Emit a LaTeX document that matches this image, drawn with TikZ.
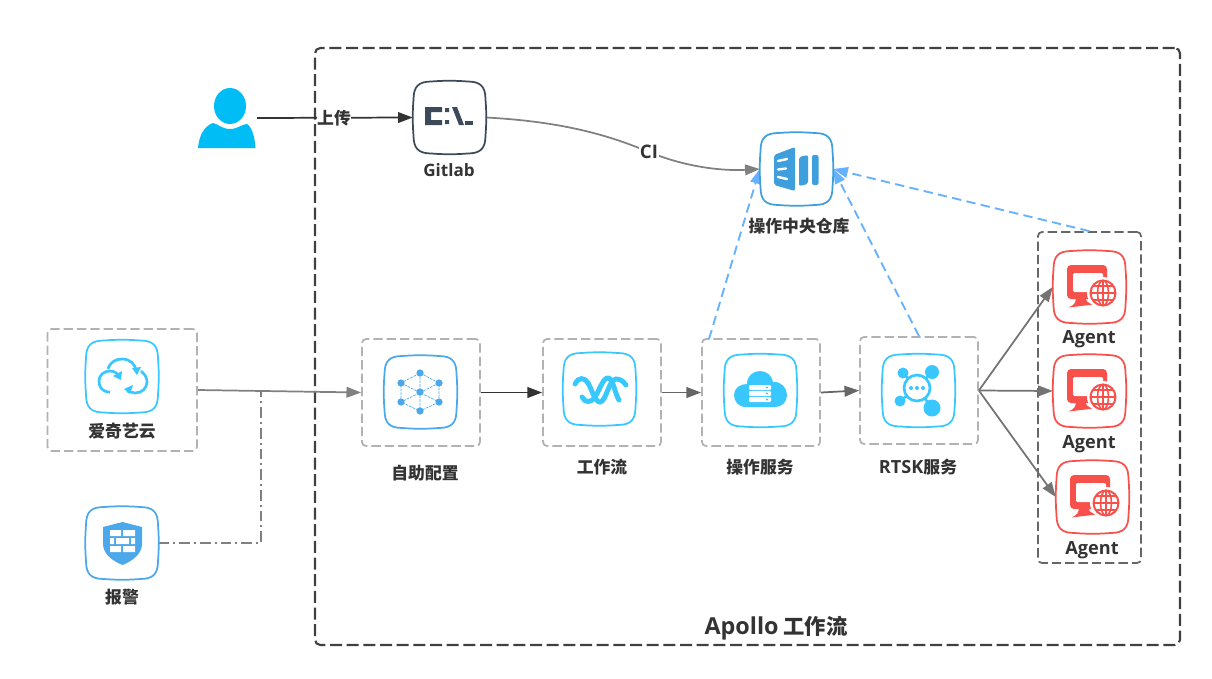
\documentclass[tikz,border=0pt]{standalone}
\usepackage{fontspec}
\setmainfont{Noto Sans CJK SC}[BoldFont={Noto Sans CJK SC Black}]
\newfontfamily\latn{Open Sans}[BoldFont={Open Sans Bold}]
\usetikzlibrary{arrows.meta,calc}
\definecolor{txt}{HTML}{333333}
\definecolor{cyanic}{HTML}{38C8FF}
\definecolor{blueic}{HTML}{4BA8EA}
\definecolor{repoic}{HTML}{3E9FDC}
\definecolor{redic}{HTML}{F8504B}
\definecolor{dashblue}{HTML}{66B2FF}
\definecolor{gitic}{HTML}{3D4A5A}
\definecolor{person}{HTML}{00BDF6}
\newcommand{\squircle}[3]{%
 \begin{scope}[shift={(#1,#2)}]
 \draw[#3,line width=1.3pt,fill=white]
  (-36,-18) .. controls (-36,-31) and (-31,-36) .. (-18,-36)
  .. controls (-6,-37) and (6,-37) .. (18,-36)
  .. controls (31,-36) and (36,-31) .. (36,-18)
  .. controls (37,-6) and (37,6) .. (36,18)
  .. controls (36,31) and (31,36) .. (18,36)
  .. controls (6,37) and (-6,37) .. (-18,36)
  .. controls (-31,36) and (-36,31) .. (-36,18)
  .. controls (-37,6) and (-37,-6) .. (-36,-18) -- cycle;
 \end{scope}}
\newcommand{\agenticon}[2]{%
 \squircle{#1}{#2}{redic}
 \begin{scope}[shift={(#1,#2)}]
  \fill[redic,rounded corners=3pt] (-22.5,-22) rectangle (17.5,12);
  \fill[white,rounded corners=1pt] (-16.5,-14) rectangle (13.5,5);
  \fill[redic] (-14,10) -- (-4,10) .. controls (-4,14) and (-2,16) .. (4,17.5) -- (-21,20.5) .. controls (-15,18) and (-13,15) .. (-14,10) -- cycle;
  \fill[white] (13.5,6) circle (16);
  \draw[redic,line width=1.5pt] (13.5,6) circle (12.5);
  \draw[redic,line width=1.2pt] (13.5,6) ellipse (5.5 and 12.5) (13.5,-6.5) -- (13.5,18.5) (1,6) -- (26,6) (3.5,-1) -- (23.5,-1) (3.5,13) -- (23.5,13);
 \end{scope}}
\tikzset{
 x=0.75pt,y=-0.75pt,
 iconnode/.style={minimum size=54.75pt,inner sep=0pt,draw=none},
 framebox/.style={draw=#1,line width=1.3pt,rounded corners=3pt,dash pattern=on 7pt off 3pt,inner sep=0pt},
 stagebox/.style={framebox={black!30},minimum width=88.5pt,minimum height=80.25pt},
 lbl/.style={text=txt,font=\bfseries\fontsize{12.6pt}{14pt}\selectfont,inner sep=0pt},
 latlbl/.style={text=txt,font=\latn\bfseries\fontsize{13.6pt}{15pt}\selectfont,inner sep=0pt},
 conn/.style={line width=1.3pt,draw=#1,-{Triangle[length=11pt,width=8pt,fill=#1]}},
 blueconn/.style={line width=1.4pt,draw=dashblue,dash pattern=on 7pt off 4pt,-{Triangle[length=11pt,width=8pt,fill=dashblue]}},
 ww/.style={line width=3.7pt,draw=cyanic,line cap=round},
}
\begin{document}
\begin{tikzpicture}
\useasboundingbox (0,0) rectangle (1212,678);
\fill[white] (0,0) rectangle (1212,678);

% frames
\node[framebox={black!75},line width=1.6pt,rounded corners=4pt,dash pattern=on 9pt off 3.5pt,minimum width=648.75pt,minimum height=447.75pt] (outer) at (747.5,346.5) {};
\node[framebox={black!30},minimum width=112pt,minimum height=91.5pt] (cloudframe) at (122.25,390) {};
\node[stagebox] (selfframe) at (421,392.5) {};
\node[stagebox] (flowframe) at (602,392.5) {};
\node[stagebox] (opsframe) at (761,392.5) {};
\node[stagebox] (rtskframe) at (919,390.5) {};
\node[framebox={black!60},minimum width=77.25pt,minimum height=248.25pt] (agentframe) at (1089.5,397.5) {};

% named anchors of the icons
\node[iconnode] (person) at (226.5,118) {};
\node[iconnode] (gitlab) at (449.5,117.5) {};
\node[iconnode] (repo) at (796.5,169) {};
\node[iconnode] (alarm) at (122,543) {};
\node[iconnode] (agent1) at (1089.5,287) {};
\node[iconnode] (agent2) at (1089.5,391) {};
\node[iconnode] (agent3) at (1092.5,497) {};
\coordinate (personout) at (257,118);
\coordinate (junction) at (261,391.6);
\coordinate (opstop) at (709,339);

% connectors
\draw[conn=txt] (personout) -- (gitlab.west);
\draw[line width=1.3pt,draw=black!50,-{Triangle[length=11pt,width=8pt,fill=black!50]}] (gitlab.east) .. controls (570,122) and (615,138) .. (649,152) .. controls (688,168) and (725,171) .. (repo.west);
\draw[conn=black!50] (cloudframe.east) -- (selfframe.west);
\draw[line width=1.3pt,draw=black!50,dash pattern=on 8pt off 3pt on 1.5pt off 3pt] (alarm.east) -| (junction);
\draw[conn=txt] (selfframe.east) -- (flowframe.west);
\draw[conn=black!60] (flowframe.east) -- (opsframe.west);
\draw[conn=black!60] (opsframe.east) -- (rtskframe.west);
\draw[conn=black!55] (rtskframe.east) -- (agent1.west);
\draw[conn=black!55] (rtskframe.east) -- (agent2.west);
\draw[conn=black!55] (rtskframe.east) -- (agent3.west);
\draw[blueconn] (opstop) -- (repo.west);
\draw[blueconn] (rtskframe.north) -- (repo.east);
\draw[blueconn] (agentframe.north) -- (repo.east);

% person
\fill[person] (230,106) ellipse (16 and 18);
\fill[person] (198,148) .. controls (199,136) and (204,126) .. (213,123) .. controls (218,124) and (222,129) .. (230,129) .. controls (238,129) and (242,124) .. (247,124) .. controls (252,127) and (255,138) .. (255.5,148) -- cycle;

% gitlab icon
\squircle{449.5}{117.5}{gitic}
\fill[gitic] (425,107) -- (442,107) -- (442,112) -- (431,112) -- (431,120) -- (442,120) -- (442,125) -- (425,125) -- cycle;
\fill[gitic] (445,108) rectangle (449,112) (445,120) rectangle (449,124);
\fill[gitic] (452,107) -- (457,107) -- (464,125) -- (459,125) -- cycle;
\fill[gitic] (465,120.5) rectangle (473,125);

% repo icon
\squircle{796.5}{169}{repoic}
\fill[repoic,rounded corners=1.5pt] (774,155) -- (795,147) -- (795,191) -- (774,185) -- cycle;
\fill[repoic,rounded corners=1.5pt] (799,157) -- (808,155) -- (808,184) -- (799,186) -- cycle;
\fill[repoic,rounded corners=1.5pt] (812,155) -- (818.5,155) -- (818.5,185) -- (812,185) -- cycle;
\draw[white,line width=1.8pt,line cap=round] (778,161) -- (787,159) (778,169.5) -- (786,168.5) (778,177) -- (787,179);

% cloud icon
\squircle{122}{376.5}{cyanic}
\begin{scope}[line width=2pt]
\draw[cyanic] (110,392) .. controls (102,392) and (99,387) .. (99,381) .. controls (99,375) and (104,371) .. (110,371) .. controls (114,371) and (117,373) .. (119,376);
\draw[cyanic] (108,369) .. controls (110,362) and (116,359) .. (122,359) .. controls (130,359) and (135,364) .. (136,370);
\draw[cyanic] (141,371) .. controls (146,375) and (147,379) .. (147,382) .. controls (147,388) and (142,393) .. (135,393) -- (127,391);
\end{scope}
\fill[cyanic] (121,380) -- (113,376) -- (122,371) -- cycle;
\fill[cyanic] (137,375) -- (132,368) -- (141,367) -- cycle;
\fill[cyanic] (124,389) -- (133,385) -- (130,394) -- cycle;

% alarm icon
\squircle{122}{543}{blueic}
\fill[blueic] (122.5,522) -- (142,527) -- (142,545) .. controls (141,555) and (132,561) .. (122.5,565) .. controls (113,561) and (104,555) .. (103,545) -- (103,527) -- cycle;
\fill[white] (110,530) rectangle (121,536) (123,530) rectangle (135,536);
\fill[white] (110,538) rectangle (114,544) (116,538) rectangle (129,544) (131,538) rectangle (135,544);
\fill[white] (110,546) rectangle (121,552) (123,546) rectangle (135,552);

% self-service icon
\squircle{420.5}{392}{blueic}
\begin{scope}[shift={(420,392)}]
\draw[blueic,line width=.5pt,dash pattern=on 2pt off .8pt] (0,-19) -- (19,-9) -- (19,10) -- (0,19) -- (-19,10) -- (-19,-9) -- cycle (0,-19) -- (0,19) (-19,-9) -- (19,10) (19,-9) -- (-19,10);
\foreach \dx/\dy in {0/-19,19/-9,19/10,0/19,-19/10,-19/-9,0/0}{\fill[blueic] (\dx,\dy) circle (3.6);}
\end{scope}

% workflow icon
\squircle{599.5}{389}{cyanic}
\draw[ww] (575,384) .. controls (579,377) and (584,377) .. (588,383) .. controls (592,390) and (595,402) .. (600,402) .. controls (606,402) and (609,379) .. (616,379) .. controls (620,379) and (623,381) .. (626,385);
\draw[ww] (582,397) .. controls (585,403) and (591,403) .. (595,397) .. controls (600,389) and (603,378) .. (608,378) .. controls (613,378) and (615,394) .. (619,400);

% ops icon
\squircle{760.5}{390.5}{cyanic}
\fill[cyanic] (746,407) .. controls (738,407) and (734,401) .. (734,395) .. controls (734,388) and (740,384) .. (747,384) .. controls (747,376) and (753,371) .. (760,371) .. controls (767,371) and (772,376) .. (773,382) .. controls (781,381) and (787,388) .. (787,395) .. controls (787,402) and (782,407) .. (775,407) -- cycle;
\foreach \ry in {385,391,397}{
 \fill[white,rounded corners=.8pt] (749,\ry) rectangle (771,\ry+5);
 \fill[cyanic] (767,\ry+2.5) circle (1.2);}

% rtsk icon
\squircle{918.5}{390.5}{cyanic}
\draw[cyanic,line width=2pt] (917,388) -- (903,373) (917,388) -- (932,372) (917,388) -- (900,401) (917,388) -- (932,408);
\fill[white] (917,388) circle (13);
\draw[cyanic,line width=2pt] (917,388) circle (13);
\foreach \dx in {-6,0,6}{\fill[cyanic] (917+\dx,388) circle (2);}
\fill[cyanic] (903,373) circle (5.5) (932,372) circle (7) (900,401) circle (5.5) (932,408) circle (8.5);

% agents
\agenticon{1089.5}{287}
\agenticon{1089.5}{391}
\agenticon{1092.5}{497}

% labels
\node[lbl,fill=white] (uplabel) at (334,118) {上传};
\node[latlbl,fill=white,inner xsep=1pt,font=\latn\bfseries\fontsize{14pt}{16pt}\selectfont] (cilabel) at (649,152) {CI};
\node[latlbl,font=\latn\bfseries\fontsize{12.8pt}{14pt}\selectfont] (gitlabel) at (449,170.5) {Gitlab};
\node[lbl] (repolabel) at (799,226) {操作中央仓库};
\node[lbl] (cloudlabel) at (122,431) {爱奇艺云};
\node[lbl] (alarmlabel) at (122,597) {报警};
\node[lbl] (selflabel) at (425,473) {自助配置};
\node[lbl] (flowlabel) at (602,467) {工作流};
\node[lbl] (opslabel) at (760,467) {操作服务};
\node[lbl] (rtsklabel) at (918,467) {{\latn\fontsize{13.6pt}{15pt}\selectfont RTSK}服务};
\node[latlbl] (a1label) at (1089,339) {Agent};
\node[latlbl] (a2label) at (1089,444) {Agent};
\node[latlbl] (a3label) at (1092,550) {Agent};
\node[lbl,font=\bfseries\fontsize{16pt}{18pt}\selectfont] (apollolabel) at (776,628.5) {{\latn\fontsize{17.5pt}{18pt}\selectfont Apollo} 工作流};
\end{tikzpicture}
\end{document}
